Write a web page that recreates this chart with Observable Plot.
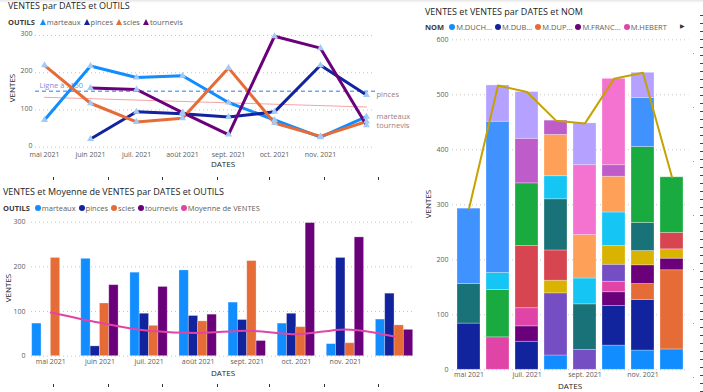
<!DOCTYPE html>
<html><head><meta charset="utf-8">
<script src="https://cdn.jsdelivr.net/npm/d3@7"></script>
<script src="https://cdn.jsdelivr.net/npm/@observablehq/plot@0.6"></script>
<style>
body{margin:0;background:#fff;}
#root{position:relative;width:703px;height:392px;overflow:hidden;font-family:"Open Sans",sans-serif;color:#252423;background:#fff;}
.abs{position:absolute;white-space:nowrap;}
.title{font-size:9px;line-height:11px;color:#252423;}
.legend{font-size:7.5px;line-height:10px;color:#605E5C;display:flex;align-items:center;}
.legend b{color:#3b3a39;font-weight:700;margin-right:5px;}
.legend .it{display:flex;align-items:center;margin-right:3px;}
.dot{display:inline-block;width:6px;height:6px;border-radius:50%;margin-right:1px;}
.tri{display:inline-block;width:0;height:0;border-left:3.5px solid transparent;border-right:3.5px solid transparent;border-bottom:6px solid;margin-right:1px;}
.alab{font-size:8px;line-height:10px;color:#252423;transform:translate(-50%,-50%);}
.ylab{font-size:8px;line-height:10px;color:#252423;transform:translate(-50%,-50%) rotate(-90deg);}
svg{position:absolute;overflow:visible;}
</style></head>
<body><div id="root"></div>
<script>
// ---------- data ----------
const months = ["mai 2021","juin 2021","juil. 2021","août 2021","sept. 2021","oct. 2021","nov. 2021","déc. 2021"];
const outils = ["marteaux","pinces","scies","tournevis"];
const outilColors = ["#118DFF","#12239E","#E66C37","#6B007B"];
const marteaux  = [73,218,187,192,120,73,27,82];
const pinces    = [null,22,95,90,81,95,220,140];
const scies     = [220,118,68,78,213,65,29,69];
const tournevis = [null,159,155,93,34,298,266,59];
const moyenne   = [98,75,57,52,57,49,60,44];
const refLine = 150;
const trend = [134,108];
const endLabels = ["pinces","marteaux","tournevis"];

const noms = ["M.DUCHESNE","M.DUBOIS","M.DUPONT","M.FRANCOIS","M.HEBERT","M.LAMBERT","M.LEFEBVRE","M.LEROY","M.MARTIN","M.MOREAU","M.PETIT","M.RICHARD","M.ROBERT","M.ROUX","M.SIMON","M.THOMAS"];
const nomLegend = ["M.DUCH...","M.DUB...","M.DUP...","M.FRANC...","M.HEBERT"];
const nomColors = ["#118DFF","#12239E","#E66C37","#6B007B","#E044A7","#744EC2","#D9B300","#D64550","#197278","#1AAB40","#15C6F4","#4092FF","#FFA058","#BE5DC9","#F472D0","#B5A1FF"];
const vDuchesne = [0,0,0,26,0,44,35,37];
const vDubois   = [84,0,51,0,0,72,92,0];
const vDupont   = [0,0,0,0,0,0,29,144];
const vFrancois = [0,0,28,0,0,25,34,21];
const vHebert   = [0,59,33,0,0,19,0,0];
const vLambert  = [0,0,0,113,36,31,0,0];
const vLefebvre = [0,0,0,23,0,34,26,17];
const vLeroy    = [0,0,113,55,0,0,0,30];
const vMartin   = [72,0,0,93,83,0,51,0];
const vMoreau   = [0,86,114,0,0,0,138,101];
const vPetit    = [0,31,0,42,47,61,0,0];
const vRichard  = [137,275,0,0,0,0,89,0];
const vRobert   = [0,0,0,75,79,65,0,0];
const vRoux     = [0,0,81,26,0,21,0,0];
const vSimon    = [0,0,0,0,127,157,0,0];
const vThomas   = [0,66,85,0,76,0,46,0];
const nomSeries = [vDuchesne,vDubois,vDupont,vFrancois,vHebert,vLambert,vLefebvre,vLeroy,vMartin,vMoreau,vPetit,vRichard,vRobert,vRoux,vSimon,vThomas];

// ---------- helpers ----------
const FONT = '"Open Sans",sans-serif';
const root = document.getElementById("root");
function add(html){ root.insertAdjacentHTML("beforeend", html); }
function place(node, left, top){ node.style.left = left+"px"; node.style.top = top+"px"; root.appendChild(node); }
const grid = "#c8c6c4";
const axStyle = {fontFamily: FONT, fontSize: "7px", color: "#605E5C", background: "transparent", overflow: "visible"};

// decorations
add('<div class="abs" style="left:0;top:0;width:703px;height:3px;background:linear-gradient(#e6e6e6,#fff)"></div>');

// ---------- chart 1: lines ----------
const outilSeries = [marteaux,pinces,scies,tournevis];
const topData = [];
outils.forEach((o,k)=>outilSeries[k].forEach((v,i)=>{ if(v!=null) topData.push({month:months[i], outil:o, v}); }));
const endData = endLabels.map(o=>({outil:o, v: outilSeries[outils.indexOf(o)][months.length-1]}));
const trendData = [{m:months[0], v:trend[0]},{m:months[months.length-1], v:trend[1]}];

const c1 = Plot.plot({
  width: 415, height: 180,
  marginLeft: 35, marginRight: 40, marginTop: 35, marginBottom: 33.3,
  style: axStyle,
  x: {type:"point", domain: months, padding: 0.144},
  y: {domain:[0,300]},
  color: {domain: outils, range: outilColors},
  marks: [
    Plot.ruleY([0,100,200,300], {stroke: grid, strokeDasharray:"1,3"}),
    Plot.axisX({ticks: months.slice(0,7), tickSize:0, tickPadding:5, label:null}),
    Plot.axisY({ticks:[0,100,200,300], tickSize:0, tickPadding:3, dy:-1.5, label:null}),
    Plot.ruleY([refLine], {stroke:"#6fa6f2", strokeWidth:1.5, strokeDasharray:"4,3"}),
    Plot.text([refLine], {x: ()=>months[0], y: d=>d, text: d=>"Ligne à : "+d, textAnchor:"start", dx:-5, dy:-6, fill:"#8589e0", fontSize:7.5}),
    Plot.line(trendData, {x:"m", y:"v", stroke:"#f5a3a3", strokeWidth:1}),
    Plot.line(topData, {x:"month", y:"v", z:"outil", stroke:"outil", strokeWidth:3}),
    Plot.dot(topData, {x:"month", y:"v", symbol:"triangle", r:2.6, fill:"#a3c9f5"}),
    Plot.text(endData, {x: ()=>months[months.length-1], y:"v", text:"outil", textAnchor:"start", dx:10, fill:"#a07c7c", fontSize:7.5})
  ]
});
place(c1, 0, 0);

add('<div class="abs title" style="left:8px;top:0px">VENTES par DATES et OUTILS</div>');
add('<div class="abs legend" style="left:8px;top:16.5px"><b>OUTILS</b>' + outils.map((o,k)=>`<span class="it"><span class="tri" style="border-bottom-color:${outilColors[k]}"></span>${o}</span>`).join("") + '</div>');
add('<div class="abs ylab" style="left:12px;top:88px">VENTES</div>');
add('<div class="abs alab" style="left:223px;top:164px">DATES</div>');

// ---------- chart 2: grouped bars ----------
const botData = [];
outils.forEach((o,k)=>outilSeries[k].forEach((v,i)=>{ if(v!=null) botData.push({i, k, outil:o, v}); }));
const bw = 0.19;
const c2 = Plot.plot({
  width: 420, height: 212,
  marginLeft: 31, marginRight: 8, marginTop: 41.7, marginBottom: 36.3,
  style: axStyle,
  x: {type:"linear", domain:[-0.394, 7.366]},
  y: {domain:[0,300]},
  color: {domain: outils, range: outilColors},
  marks: [
    Plot.ruleY([0,100,200,300], {stroke: grid, strokeDasharray:"1,3"}),
    Plot.axisX({ticks: d3.range(7), tickFormat: i=>months[i], tickSize:0, tickPadding:3, label:null}),
    Plot.axisY({ticks:[0,100,200,300], tickSize:0, tickPadding:6, label:null}),
    Plot.rectY(botData, {x1: d=>d.i+(d.k-2)*bw, x2: d=>d.i+(d.k-1)*bw, y:"v", fill:"outil", stroke:"white", strokeOpacity:0.35, strokeWidth:0.8}),
    Plot.line(moyenne, {x:(d,i)=>i, y:d=>d, stroke:"#E044A7", strokeWidth:2, curve:"monotone-x"})
  ]
});
place(c2, 0, 180);

add('<div class="abs title" style="left:3px;top:186.2px">VENTES et Moyenne de VENTES par DATES et OUTILS</div>');
add('<div class="abs legend" style="left:3px;top:203.3px"><b>OUTILS</b>' + outils.map((o,k)=>`<span class="it"><span class="dot" style="background:${outilColors[k]}"></span>${o}</span>`).join("") + `<span class="it"><span class="dot" style="background:#E044A7"></span>Moyenne de VENTES</span></div>`);
add('<div class="abs ylab" style="left:7.5px;top:288px">VENTES</div>');
add('<div class="abs alab" style="left:223px;top:373.3px">DATES</div>');

// ---------- chart 3: stacked bars + total line ----------
const stackData = [];
noms.forEach((n,j)=>nomSeries[j].forEach((v,i)=>{ if(v>0) stackData.push({month:months[i], nom:n, v}); }));
const totals = months.map((m,i)=>d3.sum(nomSeries, s=>s[i]));
const c3 = Plot.plot({
  width: 288, height: 392,
  marginLeft: 37, marginRight: 14.7, marginTop: 39.3, marginBottom: 22.7,
  style: axStyle,
  x: {type:"band", domain: months, paddingInner:0.2, paddingOuter:0.045},
  y: {domain:[0,600]},
  color: {domain: noms, range: nomColors},
  marks: [
    Plot.ruleY(d3.range(0,601,100), {stroke: grid, strokeDasharray:"1,3"}),
    Plot.axisX({ticks: [months[0],months[2],months[4],months[6]], tickSize:0, tickPadding:2, label:null}),
    Plot.axisY({ticks: d3.range(0,601,100), tickSize:0, tickPadding:4, label:null}),
    Plot.barY(stackData, {x:"month", y:"v", fill:"nom", stroke:"white", strokeOpacity:0.35, strokeWidth:0.8}),
    Plot.line(totals, {x:(d,i)=>months[i], y:d=>d, stroke:"#C4A200", strokeWidth:2})
  ]
});
place(c3, 415, 0);

add('<div class="abs title" style="left:425px;top:5.5px">VENTES et VENTES par DATES et NOM</div>');
add('<div class="abs legend" style="left:425px;top:22.3px"><b>NOM</b>' + nomLegend.map((n,k)=>`<span class="it"><span class="dot" style="background:${nomColors[k]}"></span>${n}</span>`).join("") + '</div>');
add('<div class="abs" style="left:680px;top:22px;font-size:6px;line-height:8px;color:#333">▶</div>');
add('<div class="abs ylab" style="left:428px;top:204px">VENTES</div>');
add('<div class="abs alab" style="left:570px;top:385.7px">DATES</div>');

// canvas edge decorations
let deco = "";
for (const x of [53,108,162,217,269,324,378]) { deco += `<div class="abs" style="left:${x}px;top:177px;width:1px;height:3px;background:#333"></div><div class="abs" style="left:${x}px;top:384px;width:1px;height:3px;background:#333"></div>`; }
for (let y=15; y<392; y+=8) deco += `<div class="abs" style="left:700px;top:${y}px;width:3px;height:1px;background:#444"></div>`;
for (let y=53; y<392; y+=54) deco += `<div class="abs" style="left:693px;top:${y}px;width:1px;height:1px;background:#999"></div>`;
add(deco);
</script></body></html>
